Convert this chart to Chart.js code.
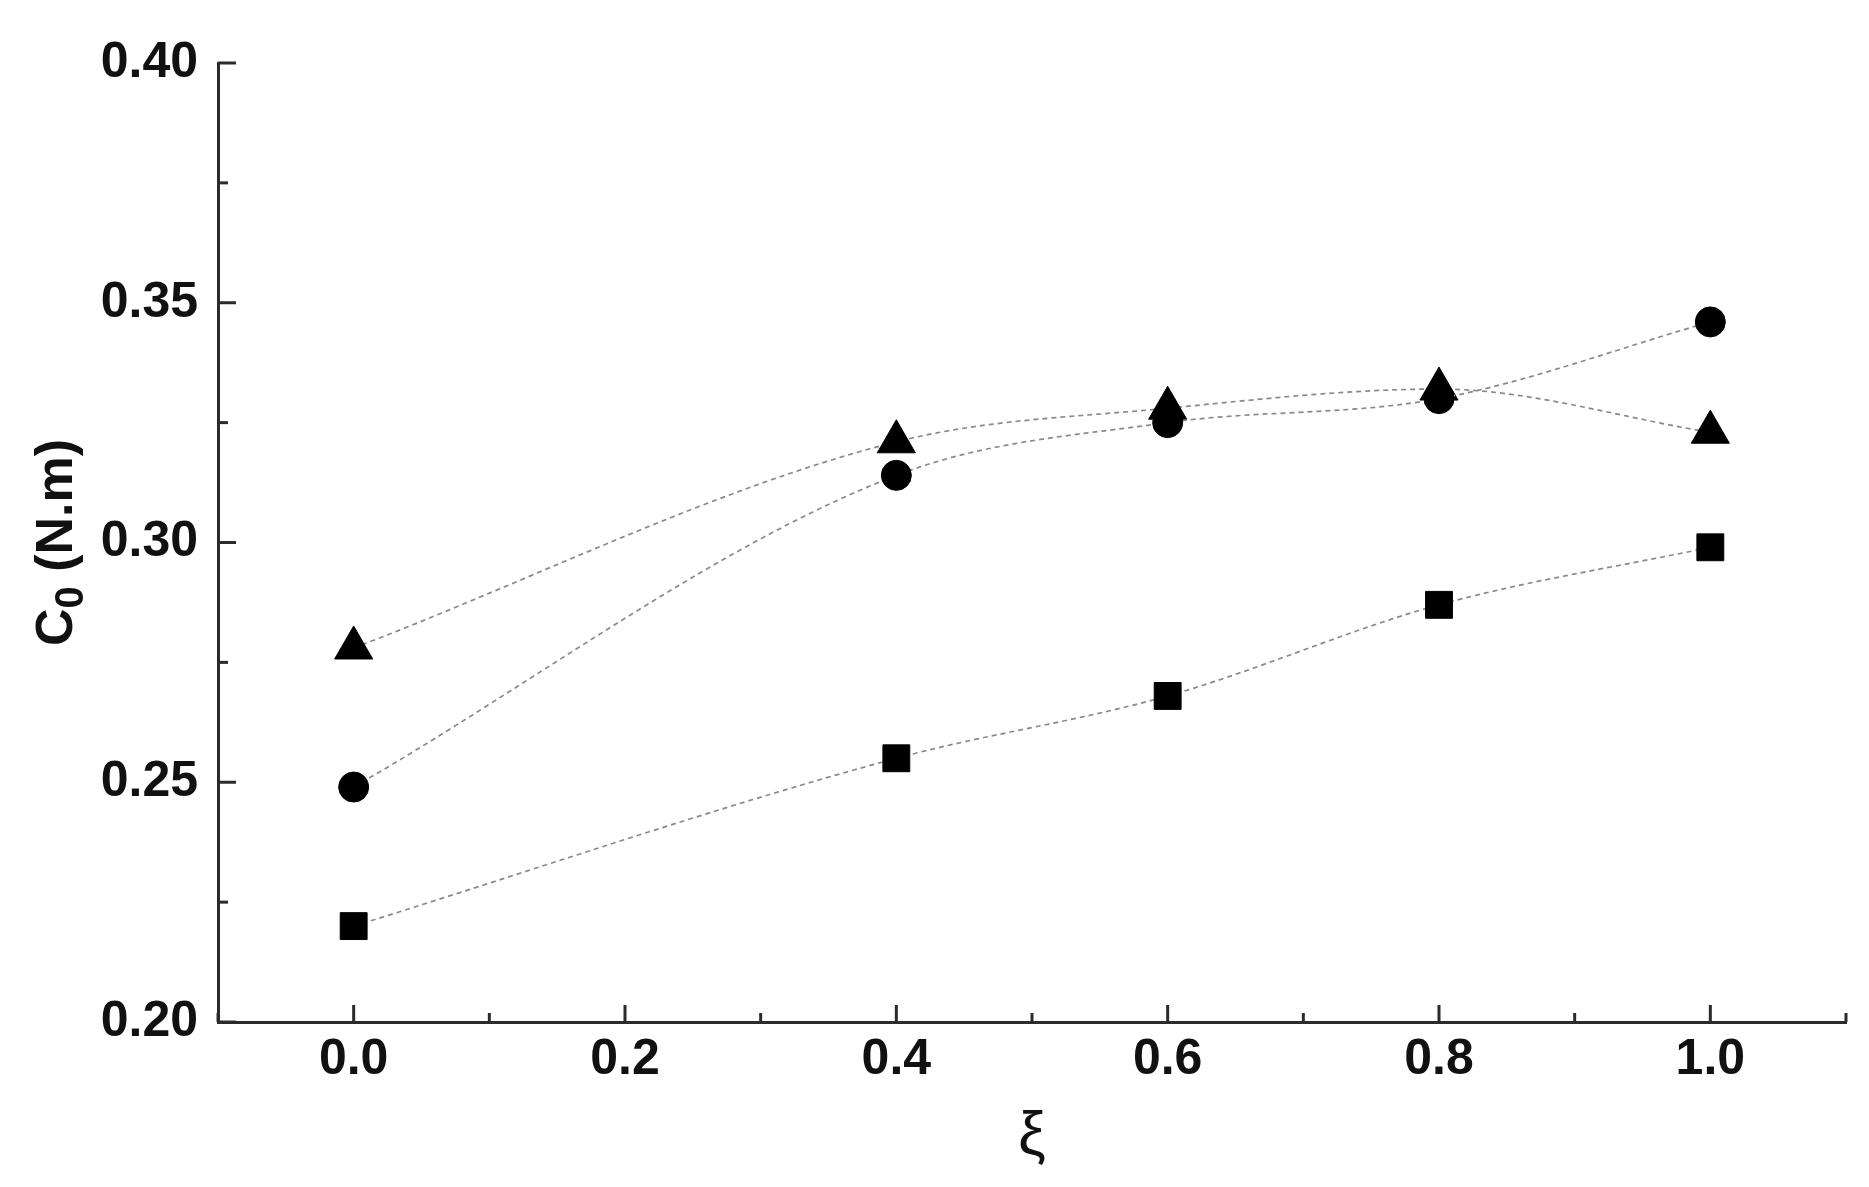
<!DOCTYPE html>
<html>
<head>
<meta charset="utf-8">
<script src="https://cdn.jsdelivr.net/npm/chart.js"></script>
<style>
  body { margin: 0; background: #fff; }
</style>
</head>
<body>
<canvas id="chart" width="1869" height="1187"></canvas>
<script>
// values
const xi = [0.0, 0.4, 0.6, 0.8, 1.0];
const squares = [0.220, 0.255, 0.268, 0.287, 0.299];
const circles = [0.249, 0.314, 0.325, 0.330, 0.346];
const triangles = [0.278, 0.321, 0.328, 0.332, 0.323];

const xTickLabels = ['0.0', '0.2', '0.4', '0.6', '0.8', '1.0'];
const yTickLabels = ['0.20', '0.25', '0.30', '0.35', '0.40'];

const axisColor = '#2b2b2b';
const lineColor = '#8a8a8a';

function labelFor(v, labels) {
  return labels.find(l => Math.abs(parseFloat(l) - v) < 1e-6) || '';
}

function makeSet(values, style, radius) {
  return {
    data: xi.map((x, i) => ({ x: x, y: values[i] })),
    borderColor: lineColor,
    borderWidth: 1.7,
    borderDash: [5, 4],
    cubicInterpolationMode: 'monotone',
    pointStyle: style,
    pointRadius: radius,
    pointBackgroundColor: '#000',
    pointBorderColor: '#000',
    pointBorderWidth: 1,
  };
}

// ticks drawn inside the frame, long for labelled ones, short for the rest
const innerTicks = {
  id: 'innerTicks',
  afterDraw(chart) {
    const ctx = chart.ctx;
    const area = chart.chartArea;
    const xs = chart.scales.x;
    const ys = chart.scales.y;
    ctx.save();
    ctx.strokeStyle = axisColor;
    ctx.lineWidth = 3;
    xs.ticks.forEach((t, i) => {
      const px = xs.getPixelForTick(i);
      const len = labelFor(t.value, xTickLabels) ? 17 : 9;
      ctx.beginPath();
      ctx.moveTo(px, area.bottom);
      ctx.lineTo(px, area.bottom - len);
      ctx.stroke();
    });
    ys.ticks.forEach((t, i) => {
      const py = ys.getPixelForTick(i);
      const len = labelFor(t.value, yTickLabels) ? 18 : 10;
      ctx.beginPath();
      ctx.moveTo(area.left, py);
      ctx.lineTo(area.left + len, py);
      ctx.stroke();
    });

    // axis titles
    ctx.fillStyle = '#111';
    ctx.textBaseline = 'middle';
    ctx.textAlign = 'center';
    ctx.font = '62px "Liberation Sans"';
    ctx.fillText('ξ', (area.left + area.right) / 2, 1137);

    ctx.translate(58, (area.top + area.bottom) / 2);
    ctx.rotate(-Math.PI / 2);
    const big = 'bold 52px "Liberation Sans"';
    const small = 'bold 40px "Liberation Sans"';
    ctx.font = big;
    const wC = ctx.measureText('C').width;
    const wRest = ctx.measureText(' (N.m)').width;
    ctx.font = small;
    const w0 = ctx.measureText('0').width;
    let x = -(wC + w0 + wRest) / 2;
    ctx.textAlign = 'left';
    ctx.font = big;
    ctx.fillText('C', x, 0);
    x += wC;
    ctx.font = small;
    ctx.fillText('0', x, 14);
    x += w0;
    ctx.font = big;
    ctx.fillText(' (N.m)', x, 0);
    ctx.restore();
  }
};

new Chart(document.getElementById('chart'), {
  type: 'line',
  data: {
    datasets: [
      makeSet(squares, 'rect', 19),
      makeSet(circles, 'circle', 15),
      makeSet(triangles, 'triangle', 22),
    ],
  },
  options: {
    responsive: false,
    animation: false,
    layout: { padding: { top: 63, right: 21, left: 0, bottom: 0 } },
    plugins: {
      legend: { display: false },
      tooltip: { enabled: false },
    },
    scales: {
      x: {
        type: 'linear',
        min: -0.1,
        max: 1.1,
        afterFit: s => { s.height = 165; },
        grid: { display: false, drawTicks: false },
        border: { display: true, color: axisColor, width: 3 },
        ticks: {
          stepSize: 0.1,
          autoSkip: false,
          maxRotation: 0,
          padding: 8,
          color: '#111',
          font: { family: 'Liberation Sans', size: 50, weight: 'bold' },
          callback: v => labelFor(v, xTickLabels),
        },
      },
      y: {
        min: 0.2,
        max: 0.4,
        afterFit: s => { s.width = 218; },
        grid: { display: false, drawTicks: false },
        border: { display: true, color: axisColor, width: 3 },
        ticks: {
          stepSize: 0.025,
          autoSkip: false,
          padding: 20,
          color: '#111',
          font: { family: 'Liberation Sans', size: 50, weight: 'bold' },
          callback: v => labelFor(v, yTickLabels),
        },
      },
    },
  },
  plugins: [innerTicks],
});
</script>
</body>
</html>
